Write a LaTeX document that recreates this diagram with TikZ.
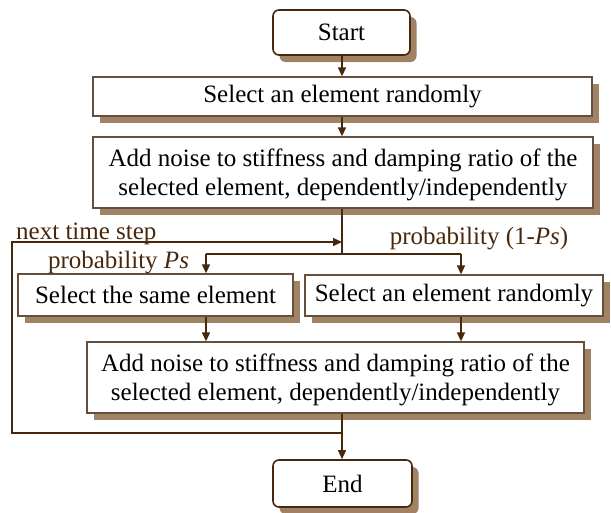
\documentclass[tikz,border=0pt]{standalone}
\usepackage{fontspec}
\setmainfont{Liberation Serif}
\usetikzlibrary{arrows.meta,shadows,positioning}
\definecolor{shadowc}{RGB}{160,130,100}
\definecolor{boxline}{RGB}{100,80,60}
\definecolor{arrowc}{RGB}{72,40,12}
\begin{document}
\begin{tikzpicture}[x=1pt,y=-1pt,
  font=\fontsize{25}{29}\selectfont,
  boxbase/.style={draw, fill=white, inner sep=0pt, align=center, line width=1.3pt,
    drop shadow={shadow xshift=6.5pt, shadow yshift=-7pt, fill=shadowc, opacity=1}},
  procbox/.style={boxbase, draw=boxline, rectangle},
  termbox/.style={boxbase, draw=arrowc, rounded corners=6pt, line width=1.6pt},
  boxtext/.style={inner sep=0pt, align=center},
  conn/.style={draw=arrowc, line width=1.5pt},
  arr/.style={conn, -{Triangle[length=9pt,width=8pt]}},
  lbl/.style={text=arrowc, inner sep=0pt, anchor=base}]
\useasboundingbox (0,0) rectangle (611,512);

\node[termbox, minimum width=137pt, minimum height=45pt] (start) at (341.5,32.5) {Start};
\node[procbox, minimum width=499pt, minimum height=39pt] (b1) at (342.5,96.5) {Select an element randomly};
\node[procbox, minimum width=500pt, minimum height=71pt] (b2) at (343,172.5) {};
\node[boxtext, yshift=-2.2pt] (b2t) at (b2.center) {Add noise to stiffness and damping ratio of the\\selected element, dependently/independently};
\node[procbox, minimum width=275pt, minimum height=42pt] (bl) at (155.5,295) {Select the same element};
\node[procbox, minimum width=298pt, minimum height=41pt] (br) at (454,295.5) {Select an element randomly};
\node[procbox, minimum width=497pt, minimum height=71pt] (b4) at (335.5,377.5) {};
\node[boxtext, yshift=-2.2pt] (b4t) at (b4.center) {Add noise to stiffness and damping ratio of the\\selected element, dependently/independently};
\node[termbox, minimum width=139pt, minimum height=47pt] (end) at (342.5,483.5) {End};

\node[lbl, anchor=base west] (lnext) at (16,239) {next time step};
\node[lbl] (lps) at (118.5,268) {probability \textit{Ps}};
\node[lbl] (lps1) at (479,244.5) {probability (1-\textit{Ps})};

\coordinate (split) at (342,254);
\coordinate (sl) at (206,254);
\coordinate (sr) at (461,254);
\coordinate (loopa) at (342,433);
\coordinate (loopb) at (12,433);
\coordinate (loopc) at (12,242);
\coordinate (loopd) at (342,242);

\draw[arr] (start.south -| 342,0) -- (b1.north -| 342,0);
\draw[arr] (b1.south -| 342,0) -- (b2.north -| 342,0);
\draw[conn] (b2.south -| 342,0) -- (split);
\draw[conn] (sl) -- (sr);
\draw[arr] (sl) -- (bl.north -| sl);
\draw[arr] (sr) -- (br.north -| sr);
\draw[arr] (bl.south -| sl) -- (b4.north -| sl);
\draw[arr] (br.south -| sr) -- (b4.north -| sr);
\draw[arr] (b4.south -| 342,0) -- (end.north -| 342,0);
\draw[arr] (loopa) -- (loopb) -- (loopc) -- (loopd);
\end{tikzpicture}
\end{document}
